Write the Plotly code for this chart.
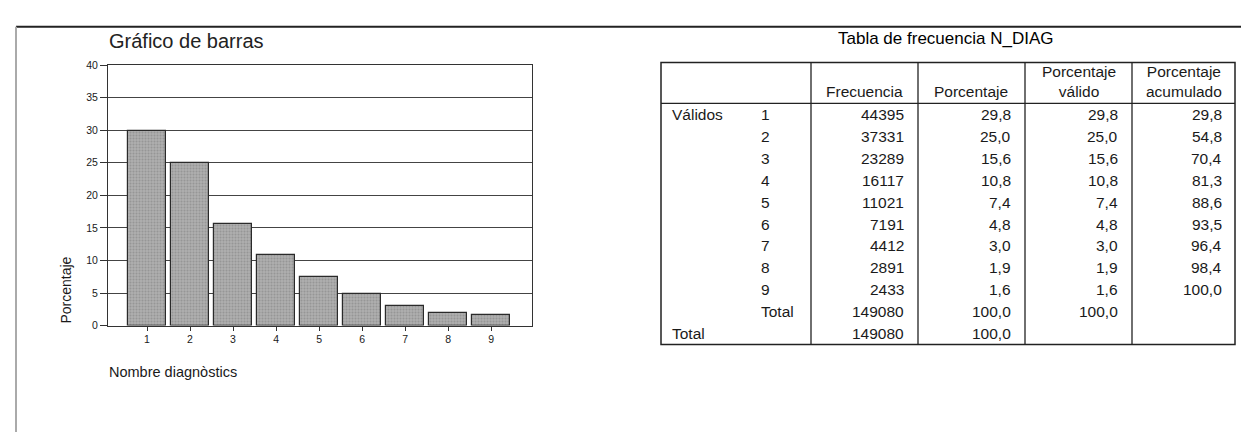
import plotly.graph_objects as go

# ---------------- data ----------------
categories = [1, 2, 3, 4, 5, 6, 7, 8, 9]
porcentaje = [29.8, 25.0, 15.6, 10.8, 7.4, 4.8, 3.0, 1.9, 1.6]
frecuencia = [44395, 37331, 23289, 16117, 11021, 7191, 4412, 2891, 2433]
porc_valido = [29.8, 25.0, 15.6, 10.8, 7.4, 4.8, 3.0, 1.9, 1.6]
porc_acumulado = [29.8, 54.8, 70.4, 81.3, 88.6, 93.5, 96.4, 98.4, 100.0]
total_frecuencia = 149080
total_porcentaje = 100.0
y_ticks = [0, 5, 10, 15, 20, 25, 30, 35, 40]
header_labels = ["Frecuencia", "Porcentaje", "Porcentaje<br>válido", "Porcentaje<br>acumulado"]

W, H = 1249, 432
FONT = "Arial, Liberation Sans, sans-serif"
TXT = "#1a1a1a"


def X(px):
    return px / W


def Y(py):
    return 1 - py / H


def fmt(v):
    return f"{v:.1f}".replace(".", ",")


fig = go.Figure()
fig.add_trace(go.Bar(
    x=categories, y=porcentaje, width=0.87,
    marker=dict(color="#a6a6a6",
                line=dict(color="#2a2a2a", width=1.2),
                pattern=dict(shape=".", fgcolor="#7a7a7a", bgcolor="#b0b0b0", size=3, solidity=0.4)),
    showlegend=False, hoverinfo="x+y",
))

fig.update_layout(
    width=W, height=H,
    margin=dict(l=0, r=0, t=0, b=0),
    paper_bgcolor="white", plot_bgcolor="white",
    font=dict(family=FONT, color=TXT),
    bargap=0,
    xaxis=dict(domain=[X(100), X(524)], range=[0.093, 9.95],
               tickmode="array", tickvals=categories, ticktext=[str(c) for c in categories],
               ticks="outside", ticklen=4, tickcolor="#333", tickwidth=1,
               showline=True, linecolor="#333", linewidth=1, mirror=True,
               showgrid=False, zeroline=False, tickfont=dict(size=10.5, family=FONT, color=TXT)),
    yaxis=dict(domain=[Y(320.5), Y(52.5)], range=[0, 40],
               tickmode="array", tickvals=y_ticks, ticktext=[str(t) for t in y_ticks],
               ticks="outside", ticklen=7, tickcolor="#333", tickwidth=1,
               showline=True, linecolor="#333", linewidth=1, mirror=True,
               showgrid=True, gridcolor="#444", gridwidth=1, zeroline=False,
               tickfont=dict(size=10.5, family=FONT, color=TXT)),
)

shapes = []
annots = []

# page frame lines
shapes.append(dict(type="line", xref="paper", yref="paper", x0=X(8), x1=X(1249), y0=Y(13), y1=Y(13),
                   line=dict(color="#222", width=2)))
shapes.append(dict(type="line", xref="paper", yref="paper", x0=X(8), x1=X(8), y0=Y(13), y1=Y(432),
                   line=dict(color="#aaa", width=2)))

# chart texts
annots.append(dict(text="Gráfico de barras", x=X(99), y=Y(28), xref="paper", yref="paper",
                   xanchor="left", yanchor="middle", showarrow=False,
                   font=dict(size=20, family=FONT, color="#222")))
annots.append(dict(text="Porcentaje", x=X(58), y=Y(321), xref="paper", yref="paper",
                   xanchor="center", yanchor="bottom", textangle=-90, showarrow=False,
                   font=dict(size=14, family=FONT, color=TXT)))
annots.append(dict(text="Nombre diagnòstics", x=X(99), y=Y(368), xref="paper", yref="paper",
                   xanchor="left", yanchor="middle", showarrow=False,
                   font=dict(size=14.5, family=FONT, color=TXT)))

# ---------------- table ----------------
T_L, T_R, T_T, T_B = 653, 1227, 50, 340
H_B = 92
col_lines = [803, 910, 1017, 1124]
col_right = [c - 12 for c in col_lines[1:]] + [T_R - 11]
row_h = (T_B - H_B) / 11

annots.append(dict(text="Tabla de frecuencia N_DIAG", x=X(937), y=Y(25), xref="paper", yref="paper",
                   xanchor="center", yanchor="middle", showarrow=False,
                   font=dict(size=17, family=FONT, color="#000")))

shapes.append(dict(type="rect", xref="paper", yref="paper", x0=X(T_L), x1=X(T_R), y0=Y(T_T), y1=Y(T_B),
                   line=dict(color="#222", width=1.5)))
shapes.append(dict(type="line", xref="paper", yref="paper", x0=X(T_L), x1=X(T_R), y0=Y(H_B), y1=Y(H_B),
                   line=dict(color="#222", width=1.3)))
for cx in col_lines:
    shapes.append(dict(type="line", xref="paper", yref="paper", x0=X(cx), x1=X(cx), y0=Y(T_T), y1=Y(T_B),
                       line=dict(color="#222", width=1.3)))

cell_font = dict(size=15.5, family=FONT, color=TXT)
col_edges = col_lines + [T_R]
for i, lab in enumerate(header_labels):
    cxm = (col_edges[i] + col_edges[i + 1]) / 2
    annots.append(dict(text=lab, x=X(cxm), y=Y(91), xref="paper", yref="paper",
                       xanchor="center", yanchor="bottom", showarrow=False, align="center",
                       font=cell_font))


def add_text(txt, xp, yp, anchor):
    annots.append(dict(text=txt, x=X(xp), y=Y(yp), xref="paper", yref="paper",
                       xanchor=anchor, yanchor="middle", showarrow=False, font=cell_font))


rows = []
for k in range(len(categories)):
    rows.append((str(categories[k]), str(frecuencia[k]), fmt(porcentaje[k]), fmt(porc_valido[k]), fmt(porc_acumulado[k])))
rows.append(("Total", str(total_frecuencia), fmt(total_porcentaje), fmt(total_porcentaje), ""))

for r, row in enumerate(rows):
    yc = H_B + row_h * r + row_h / 2
    if r == 0:
        add_text("Válidos", 662, yc, "left")
    add_text(row[0], 751, yc, "left")
    for c in range(4):
        if row[c + 1]:
            add_text(row[c + 1], col_right[c], yc, "right")

yc = H_B + row_h * 10 + row_h / 2
add_text("Total", 662, yc, "left")
add_text(str(total_frecuencia), col_right[0], yc, "right")
add_text(fmt(total_porcentaje), col_right[1], yc, "right")

fig.update_layout(shapes=shapes, annotations=annots)
fig.write_html("out.html")
